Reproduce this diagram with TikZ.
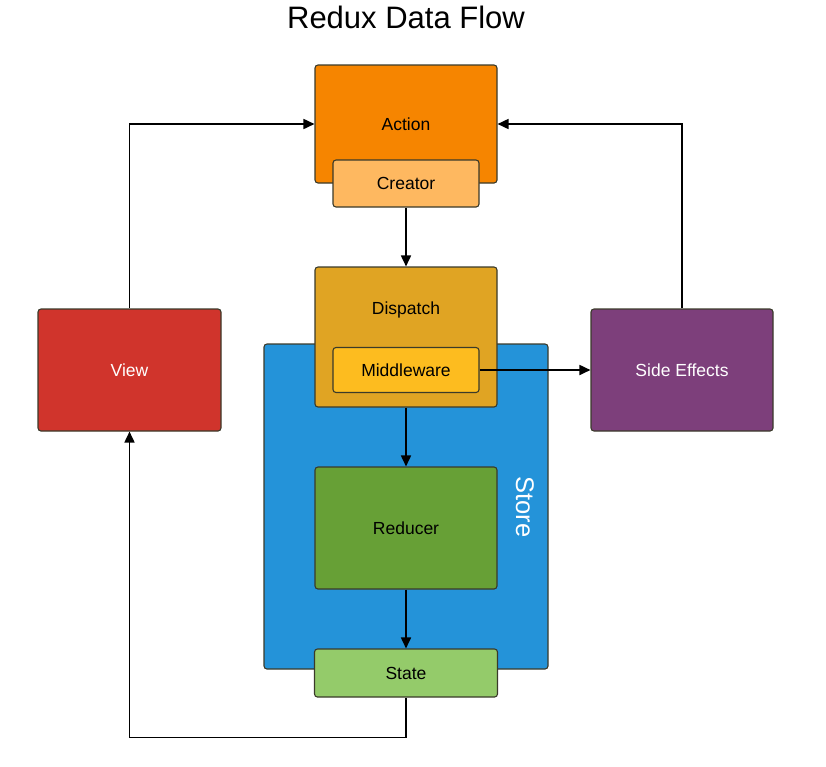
\documentclass[tikz,border=0pt]{standalone}
\usepackage{fontspec}
\setmainfont{Liberation Sans}
\usetikzlibrary{arrows.meta}
\definecolor{actionc}{HTML}{F68500}
\definecolor{creatorc}{HTML}{FEB860}
\definecolor{dispatchc}{HTML}{E0A423}
\definecolor{middlec}{HTML}{FDBC1F}
\definecolor{storec}{HTML}{2493D9}
\definecolor{reducerc}{HTML}{67A036}
\definecolor{statec}{HTML}{94CB6A}
\definecolor{viewc}{HTML}{D0342C}
\definecolor{sidec}{HTML}{7D3F7B}
\definecolor{edgec}{HTML}{3A3A2A}
\begin{document}
\begin{tikzpicture}[x=1pt,y=-1pt]
	\tikzstyle{every node} = [font=\fontsize{17.5}{20}\selectfont];
	\tikzstyle{box} = [draw=edgec, line width=1.1pt, rounded corners=3pt, inner sep=0pt];
	\tikzstyle{arr} = [line width=1.7pt, -{Triangle[length=11pt,width=10pt]}];
	\useasboundingbox (0,0) rectangle (826,766);
	\node (title) at (406,17) {\fontsize{31}{36}\selectfont Redux Data Flow};
	% action and creator
	\node[box, fill=actionc, minimum width=182, minimum height=118] (action) at (406,124) {Action};
	\node[box, fill=creatorc, minimum width=146, minimum height=47] (creator) at (406,183.5) {Creator};
	% store with its parts
	\node[box, fill=storec, minimum width=284, minimum height=325] (store) at (406,506.5) {};
	\node[white, rotate=-90, font=\fontsize{25.5}{30}\selectfont] (storetxt) at (525,507) {Store};
	\node[box, fill=dispatchc, minimum width=182, minimum height=140] (dispatch) at (406,337) {};
	\node (dispatchtxt) at (406,310) {Dispatch};
	\node[box, fill=middlec, minimum width=146, minimum height=45] (middleware) at (406,370) {Middleware};
	\node[box, fill=reducerc, minimum width=182, minimum height=122] (reducer) at (406,528) {Reducer};
	\node[box, fill=statec, minimum width=183, minimum height=48] (state) at (406,673) {State};
	% view and side effects
	\node[box, fill=viewc, text=white, minimum width=183, minimum height=122] (view) at (129.5,370) {View};
	\node[box, fill=sidec, text=white, minimum width=182, minimum height=122] (side) at (682,370) {Side Effects};
	% connectors
	\draw[arr] (view.north) |- (action.west);
	\draw[arr] (side.north) |- (action.east);
	\draw[arr] (creator.south) -- (dispatch.north);
	\draw[arr] (middleware.east) -- (side.west);
	\draw[arr] (dispatch.south) -- (reducer.north);
	\draw[arr] (reducer.south) -- (state.north);
	\draw[arr] (state.south) -- ++(0,40) -| (view.south);
\end{tikzpicture}
\end{document}
